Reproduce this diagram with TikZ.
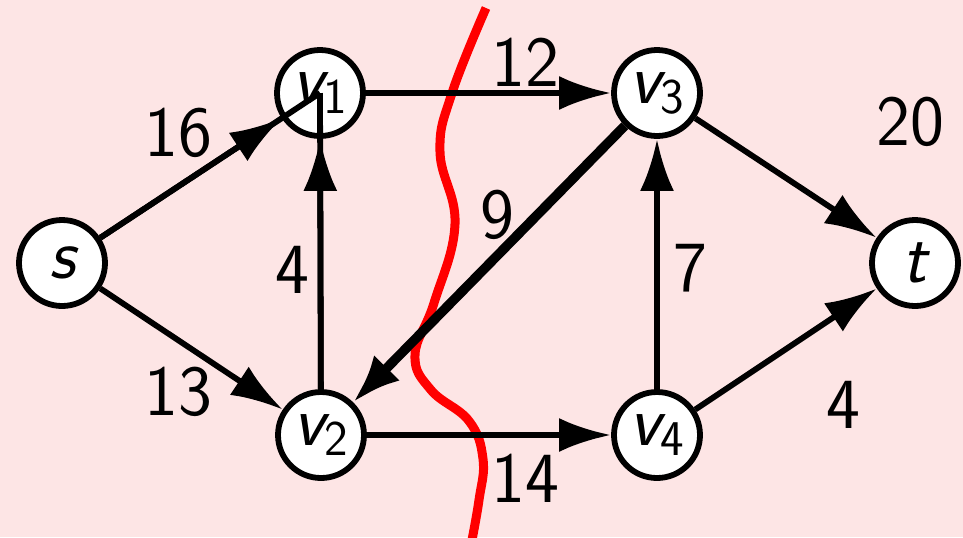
\documentclass[tikz,border=0pt]{standalone}
\usetikzlibrary{arrows.meta}
\definecolor{bgpink}{RGB}{253,229,229}
% vertex name: sans italic letter with a sans digit as subscript
\newcommand\vname[2]{{\itshape #1}\raisebox{-5pt}{\fontsize{25}{30}\selectfont\sffamily #2}}
\begin{document}
\begin{tikzpicture}[x=0.5pt,y=-0.5pt,
  vertex/.style={circle,draw,line width=2.9pt,fill=white,minimum size=43pt,
    inner sep=0pt,font=\fontsize{36}{40}\selectfont\sffamily},
  flow/.style={line width=2.9pt,-{Latex[length=26pt,width=17pt]}},
  heavy/.style={line width=4.8pt,-{Latex[length=24pt,width=18pt]}},
  plain/.style={line width=2.9pt},
  wt/.style={font=\fontsize{36}{40}\selectfont\sffamily,inner sep=0pt},
  cut/.style={red,line width=4.5pt}]
\fill[bgpink] (0,0) rectangle (963,537);
\useasboundingbox (0,0) rectangle (963,537);

% the cut
\draw[cut] plot[smooth,tension=0.7] coordinates {(486,8) (452,93) (440,152)
  (455,224) (434,303) (415,355) (431,390) (469,421) (483,459) (479,500) (471,545)};

% vertices
\node[vertex] (s)  at (62,263)  {\itshape s};
\node[vertex] (v1) at (320,93)  {\vname{v}{1}};
\node[vertex] (v2) at (321,435) {\vname{v}{2}};
\node[vertex] (v3) at (657,93)  {\vname{v}{3}};
\node[vertex] (v4) at (657,435) {\vname{v}{4}};
\node[vertex] (t)  at (915,263) {\itshape t};

% edges
\draw[flow] (s) -- (v1);
\draw[flow] (s) -- (v2);
\draw[flow] (v1) -- (v3);
\draw[flow] (v2) -- (v1);
\draw[heavy] (v3) -- (v2);
\draw[flow] (v2) -- (v4);
\draw[flow] (v4) -- (v3);
\draw[flow] (v3) -- (t);
\draw[flow] (v4) -- (t);
\draw[plain] (s) -- (v1.center);
\draw[plain] (v2) -- (v1.center);

% capacities
\node[wt] (c16) at (178,133) {16};
\node[wt] (c12) at (525,62)  {12};
\node[wt] (c13) at (178,392) {13};
\node[wt] (c4a) at (292,270) {4};
\node[wt] (c9)  at (497,215) {9};
\node[wt] (c7)  at (690,268) {7};
\node[wt] (c14) at (525,478) {14};
\node[wt] (c20) at (910,122) {20};
\node[wt] (c4b) at (843,405) {4};
\end{tikzpicture}
\end{document}
